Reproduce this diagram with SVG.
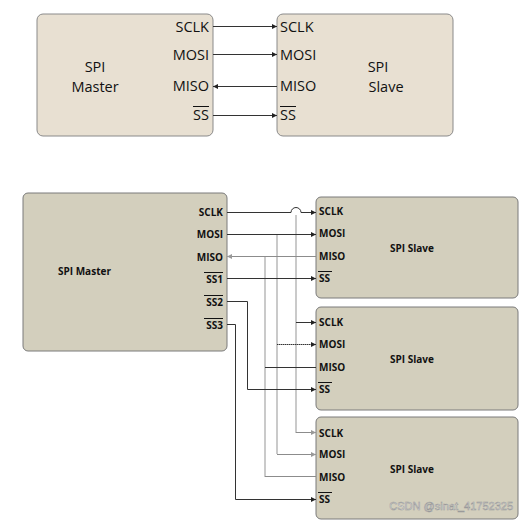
<svg xmlns="http://www.w3.org/2000/svg" width="520" height="521" viewBox="0 0 520 521">
<style>
.tb{fill:#e8e0d2;stroke:#8a8a8a;stroke-width:1}
.bb{fill:#d3cfbd;stroke:#7a7a7a;stroke-width:1}
.t1{font-family:"Open Sans","Noto Sans",sans-serif;font-size:14.5px;fill:#111}
.t2{font-family:"Open Sans","Noto Sans",sans-serif;font-size:10px;font-weight:bold;fill:#111}
.d{stroke:#333;stroke-width:1;fill:none}
.g{stroke:#bdbdbd;stroke-width:1.6;fill:none}
.gm{stroke:#8c8c8c;stroke-width:1;fill:none}
.ov{stroke:#111;stroke-width:1}
</style>
<defs>
<marker id="ad" markerWidth="6" markerHeight="6" refX="5" refY="3" orient="auto" markerUnits="userSpaceOnUse"><path d="M0,0.5 L5,3 L0,5.5z" fill="#222"/></marker>
<marker id="ag" markerWidth="6" markerHeight="6" refX="5" refY="3" orient="auto" markerUnits="userSpaceOnUse"><path d="M0,0.5 L5,3 L0,5.5z" fill="#999"/></marker>
</defs>
<rect width="520" height="521" fill="#fff"/>

<g id="top-master">
<rect class="tb" x="37" y="14" width="176" height="122" rx="6"/>
<text class="t1" x="95" y="72" text-anchor="middle">SPI</text>
<text class="t1" x="95" y="92" text-anchor="middle">Master</text>
<text class="t1" x="209" y="32" text-anchor="end">SCLK</text>
<text class="t1" x="209" y="60" text-anchor="end">MOSI</text>
<text class="t1" x="209" y="91" text-anchor="end">MISO</text>
<text class="t1" x="209" y="120" text-anchor="end">SS</text>
<line class="ov" x1="193" y1="106.5" x2="209" y2="106.5"/>
</g>
<g id="top-slave">
<rect class="tb" x="277" y="14" width="176" height="122" rx="6"/>
<text class="t1" x="378" y="72" text-anchor="middle">SPI</text>
<text class="t1" x="386" y="92" text-anchor="middle">Slave</text>
<text class="t1" x="280" y="32">SCLK</text>
<text class="t1" x="280" y="60">MOSI</text>
<text class="t1" x="280" y="91">MISO</text>
<text class="t1" x="280" y="120">SS</text>
<line class="ov" x1="280" y1="106.5" x2="296" y2="106.5"/>
</g>

<g id="bottom-master">
<rect class="bb" x="23" y="193" width="204" height="158" rx="5"/>
<text class="t2" x="58" y="275">SPI Master</text>
<text class="t2" x="223" y="216" text-anchor="end">SCLK</text>
<text class="t2" x="223" y="238" text-anchor="end">MOSI</text>
<text class="t2" x="223" y="261" text-anchor="end">MISO</text>
<text class="t2" x="223" y="283" text-anchor="end">SS1</text>
<text class="t2" x="223" y="306" text-anchor="end">SS2</text>
<text class="t2" x="223" y="329" text-anchor="end">SS3</text>
<line class="ov" x1="204" y1="272.5" x2="223" y2="272.5"/>
<line class="ov" x1="204" y1="295.5" x2="223" y2="295.5"/>
<line class="ov" x1="204" y1="318.5" x2="223" y2="318.5"/>
</g>

<g id="slave1">
<rect class="bb" x="316" y="197" width="202" height="101" rx="5"/>
<text class="t2" x="412" y="252" text-anchor="middle">SPI Slave</text>
<text class="t2" x="319" y="215">SCLK</text>
<text class="t2" x="319" y="237">MOSI</text>
<text class="t2" x="319" y="260">MISO</text>
<text class="t2" x="319" y="282">SS</text>
<line class="ov" x1="318" y1="271.5" x2="332" y2="271.5"/>
</g>
<g id="slave2">
<rect class="bb" x="316" y="307" width="202" height="103" rx="5"/>
<text class="t2" x="412" y="363" text-anchor="middle">SPI Slave</text>
<text class="t2" x="319" y="326">SCLK</text>
<text class="t2" x="319" y="348">MOSI</text>
<text class="t2" x="319" y="371">MISO</text>
<text class="t2" x="319" y="393">SS</text>
<line class="ov" x1="318" y1="382.5" x2="332" y2="382.5"/>
</g>
<g id="slave3">
<rect class="bb" x="316" y="417" width="202" height="102" rx="5"/>
<text class="t2" x="412" y="473" text-anchor="middle">SPI Slave</text>
<text class="t2" x="319" y="437">SCLK</text>
<text class="t2" x="319" y="458">MOSI</text>
<text class="t2" x="319" y="481">MISO</text>
<text class="t2" x="319" y="503">SS</text>
<line class="ov" x1="318" y1="492.5" x2="332" y2="492.5"/>
<text x="513" y="510" text-anchor="end" font-family="'Liberation Sans',Arial,sans-serif" font-size="11" fill="#fff" stroke="#9a9a9a" stroke-width="0.6">CSDN @sinat_41752325</text>
</g>

<g id="connectors">
<line class="d" x1="213" y1="26.5" x2="277" y2="26.5" marker-end="url(#ad)"/>
<line class="d" x1="213" y1="54.5" x2="277" y2="54.5" marker-end="url(#ad)"/>
<line class="d" x1="277" y1="86.5" x2="213" y2="86.5" marker-end="url(#ad)"/>
<line class="d" x1="213" y1="115.5" x2="277" y2="115.5" marker-end="url(#ad)"/>

<line class="g" x1="296" y1="215" x2="296" y2="433"/>
<line class="g" x1="277" y1="234" x2="277" y2="454"/>
<line class="g" x1="265" y1="257" x2="265" y2="477"/>

<path class="d" d="M227,212.5 H291 A5,5 0 0 1 301,212.5 H316" marker-end="url(#ad)"/>
<line class="d" x1="227" y1="234.5" x2="316" y2="234.5" marker-end="url(#ad)"/>
<line class="gm" x1="316" y1="256.5" x2="227" y2="256.5" marker-end="url(#ag)"/>
<line class="d" x1="227" y1="278.5" x2="316" y2="278.5" marker-end="url(#ad)"/>
<path class="d" d="M227,301.5 H247.5 V389.5 H316" marker-end="url(#ad)"/>
<path class="d" d="M227,324.5 H235.5 V499.5 H316" marker-end="url(#ad)"/>

<line class="d" x1="296" y1="322.5" x2="316" y2="322.5" marker-end="url(#ad)"/>
<line class="d" x1="277" y1="344.5" x2="316" y2="344.5" marker-end="url(#ad)" stroke-dasharray="1.5,0.5"/>
<line class="d" x1="265" y1="367.5" x2="316" y2="367.5"/>

<path class="gm" d="M296,432.5 H316" marker-end="url(#ag)"/>
<path class="gm" d="M277,454.5 H316" marker-end="url(#ag)"/>
<path class="gm" d="M265,476.5 H316"/>
</g>
</svg>
